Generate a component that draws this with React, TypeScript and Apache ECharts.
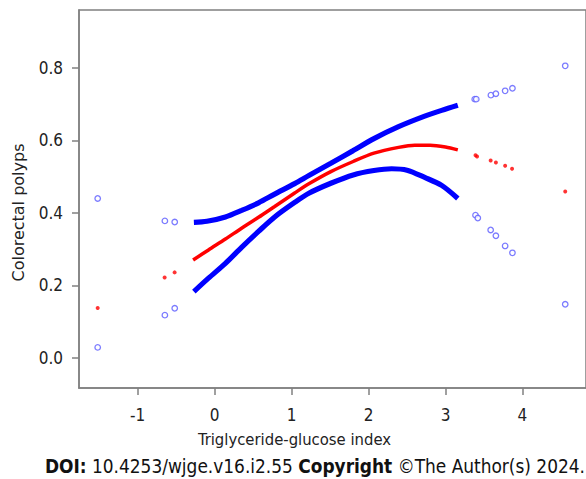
import React, { useEffect, useRef } from "react";
import * as echarts from "echarts";

const xTicks = [-1, 0, 1, 2, 3, 4];
const yTicks = [0, 0.2, 0.4, 0.6, 0.8];

// Dense fitted curve and its confidence bounds
const upperCurve = [
  [-0.27, 0.374], [-0.1, 0.377], [0.14, 0.389], [0.35, 0.407], [0.57, 0.428],
  [0.78, 0.452], [1.04, 0.481], [1.23, 0.504], [1.51, 0.537], [1.8, 0.572],
  [2.07, 0.605], [2.39, 0.638], [2.73, 0.667], [2.95, 0.683], [3.16, 0.697],
];
const fitCurve = [
  [-0.28, 0.27], [-0.08, 0.298], [0.14, 0.328], [0.35, 0.358], [0.57, 0.388],
  [0.78, 0.418], [1.04, 0.455], [1.23, 0.481], [1.51, 0.514], [1.8, 0.542],
  [2.07, 0.565], [2.39, 0.581], [2.6, 0.587], [2.8, 0.587], [3.0, 0.582], [3.16, 0.574],
];
const lowerCurve = [
  [-0.27, 0.183], [-0.08, 0.22], [0.14, 0.261], [0.35, 0.305], [0.57, 0.349],
  [0.78, 0.389], [1.04, 0.429], [1.23, 0.455], [1.51, 0.482], [1.8, 0.505],
  [2.07, 0.517], [2.3, 0.522], [2.5, 0.518], [2.73, 0.498], [2.95, 0.476], [3.16, 0.44],
];

// Isolated points
const upperPoints = [
  [-1.52, 0.44], [-0.647, 0.378], [-0.519, 0.375], [3.38, 0.714], [3.4, 0.714],
  [3.59, 0.725], [3.655, 0.729], [3.775, 0.737], [3.87, 0.744], [4.556, 0.806],
];
const fitPoints = [
  [-1.52, 0.138], [-0.65, 0.222], [-0.52, 0.236], [3.39, 0.559], [3.41, 0.556],
  [3.587, 0.545], [3.655, 0.539], [3.775, 0.53], [3.865, 0.522], [4.556, 0.459],
];
const lowerPoints = [
  [-1.52, 0.029], [-0.647, 0.118], [-0.519, 0.137], [3.39, 0.394], [3.42, 0.386],
  [3.587, 0.353], [3.655, 0.337], [3.775, 0.309], [3.87, 0.29], [4.556, 0.148],
];

const xTitle = "Triglyceride-glucose index";
const yTitle = "Colorectal polyps";

const FONT = "'DejaVu Sans Condensed', 'DejaVu Sans'";
const FONT_WIDE = "'DejaVu Sans'";
const GRAY = "#808080";
const BLUE = "#0000ff";
const RED = "#ff0000";
const TEXT = "#222";

export default function App() {
  const ref = useRef<HTMLDivElement>(null);
  useEffect(() => {
    document.body.style.margin = "0";
    const chart = echarts.init(ref.current!, null, { renderer: "svg" });
    const lineSeries = (data: number[][], color: string, width: number) => ({
      type: "line",
      data,
      smooth: 0.3,
      showSymbol: false,
      lineStyle: { color, width },
      z: 2,
    });
    const hollow = (data: number[][]) => ({
      type: "scatter",
      data,
      symbol: "circle",
      symbolSize: 5.5,
      itemStyle: { color: "#ffffff", borderColor: "#5a5aff", borderWidth: 1.3 },
      z: 3,
    });
    chart.setOption({
      animation: false,
      grid: {
        left: 79,
        top: 10,
        right: -5,
        bottom: 91,
        show: true,
        borderColor: GRAY,
        borderWidth: 1.5,
        backgroundColor: "transparent",
      },
      xAxis: {
        type: "value",
        min: -1.763,
        max: 4.826,
        axisLine: { show: true, onZero: false, lineStyle: { color: GRAY, width: 1.5 } },
        axisTick: { show: true, customValues: xTicks, length: 7, lineStyle: { color: GRAY, width: 1.5 } },
        axisLabel: {
          customValues: xTicks,
          margin: 18,
          fontFamily: FONT,
          fontSize: 17,
          color: TEXT,
          formatter: (v: number) => String(v),
        },
        splitLine: { show: false },
      },
      yAxis: {
        type: "value",
        min: -0.083,
        max: 0.96,
        axisLine: { show: true, onZero: false, lineStyle: { color: GRAY, width: 1.5 } },
        axisTick: { show: true, customValues: yTicks, length: 7, lineStyle: { color: GRAY, width: 1.5 } },
        axisLabel: {
          customValues: yTicks,
          margin: 16,
          fontFamily: FONT,
          fontSize: 17,
          color: TEXT,
          formatter: (v: number) => v.toFixed(1),
        },
        splitLine: { show: false },
      },
      series: [
        lineSeries(upperCurve, BLUE, 5.2),
        lineSeries(lowerCurve, BLUE, 5.2),
        lineSeries(fitCurve, RED, 3.5),
        hollow(upperPoints),
        hollow(lowerPoints),
        {
          type: "scatter",
          data: fitPoints,
          symbol: "circle",
          symbolSize: 4,
          itemStyle: { color: RED },
          z: 3,
        },
      ],
      graphic: [
        {
          type: "text",
          x: 294.5,
          y: 439,
          style: {
            text: xTitle,
            fontFamily: FONT,
            fontSize: 16.5,
            fill: TEXT,
            align: "center",
            verticalAlign: "middle",
          },
        },
        {
          type: "text",
          x: 18.5,
          y: 212.5,
          rotation: Math.PI / 2,
          style: {
            text: yTitle,
            fontFamily: FONT_WIDE,
            fontSize: 16,
            fill: TEXT,
            align: "center",
            verticalAlign: "middle",
          },
        },
        {
          type: "text",
          x: 585,
          y: 466,
          style: {
            text: "{b|DOI:} 10.4253/wjge.v16.i2.55 {b|Copyright} ©The Author(s) 2024.",
            fontFamily: FONT,
            fontSize: 18.9,
            fill: "#111",
            align: "right",
            verticalAlign: "middle",
            rich: {
              b: { fontFamily: FONT, fontSize: 18.9, fontWeight: "bold", fill: "#111" },
            },
          },
        },
      ],
    });
    return () => chart.dispose();
  }, []);
  return <div ref={ref} style={{ width: 586, height: 479 }} />;
}
